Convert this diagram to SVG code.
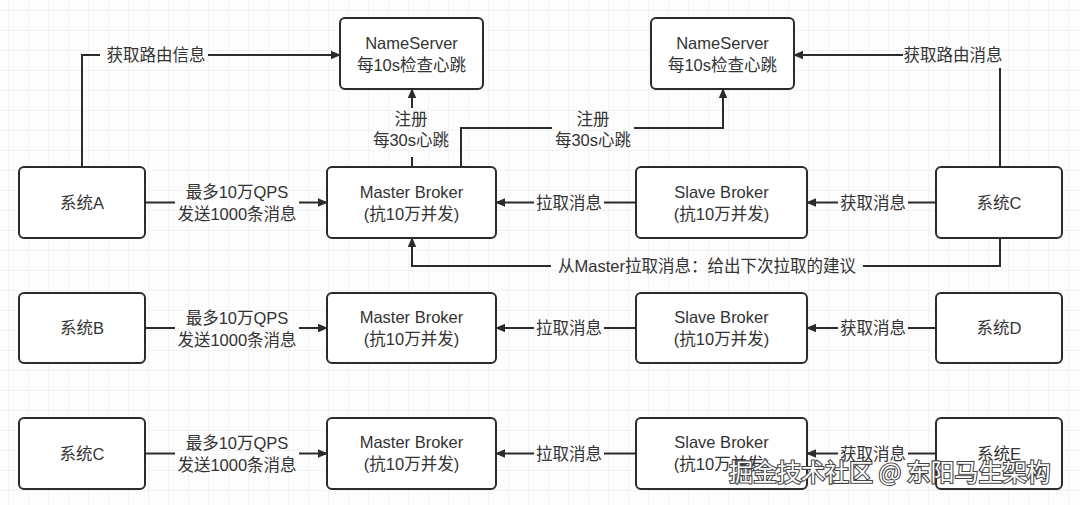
<svg xmlns="http://www.w3.org/2000/svg" width="1080" height="505" viewBox="0 0 1080 505">
<defs>
<pattern id="grid" x="8" y="10" width="20" height="20" patternUnits="userSpaceOnUse">
<path d="M20 0H0V20" fill="none" stroke="#e9e9e9" stroke-width="1"/>
</pattern>
<marker id="arr" viewBox="0 0 10 10" refX="9" refY="5" markerWidth="10" markerHeight="10" markerUnits="userSpaceOnUse" orient="auto">
<path d="M0 0.8L10 5L0 9.2Z" fill="#2b2b2b"/>
</marker>
<style>
.box{fill:#fff;stroke:#2b2b2b;stroke-width:2}
.t{font-family:"Liberation Sans","Noto Sans CJK SC",sans-serif;font-size:16.5px;fill:#333;text-anchor:middle;dominant-baseline:central}
.c{fill:none;stroke:#2b2b2b;stroke-width:2}
.a{marker-end:url(#arr)}
.wm{font-family:"Noto Sans CJK SC",sans-serif;font-size:24px;fill:#fff;stroke:#444;stroke-width:2.2;paint-order:stroke;text-anchor:start}
</style>
</defs>
<rect width="1080" height="505" fill="#fdfdfd"/>
<rect width="1080" height="505" fill="url(#grid)"/>

<g id="connectors">
<path class="c" d="M82 167V55H100"/>
<path class="c a" d="M208 55H340"/>
<text class="t" x="156" y="55">获取路由信息</text>
<path class="c" d="M1000 167V68"/>
<path class="c a" d="M903 55H794"/>
<text class="t" x="953" y="55">获取路由消息</text>
<path class="c" d="M412 167V157"/>
<path class="c a" d="M412 108V89"/>
<text class="t" x="411" y="119">注册</text>
<text class="t" x="411" y="140">每30s心跳</text>
<path class="c" d="M461 167V128H552"/>
<path class="c a" d="M634 128H723V89"/>
<text class="t" x="593" y="119">注册</text>
<text class="t" x="593" y="140">每30s心跳</text>
<path class="c" d="M1000 238V266H863"/>
<path class="c a" d="M551 266H412V238"/>
<text class="t" x="707" y="266">从Master拉取消息：给出下次拉取的建议</text>

<path class="c" d="M145 202.5H175"/>
<path class="c a" d="M299 202.5H327"/>
<text class="t" x="237" y="192">最多10万QPS</text>
<text class="t" x="237" y="214">发送1000条消息</text>
<path class="c" d="M636 202.5H604"/>
<path class="c a" d="M534 202.5H496"/>
<text class="t" x="569" y="202.5">拉取消息</text>
<path class="c" d="M936 202.5H908"/>
<path class="c a" d="M838 202.5H807"/>
<text class="t" x="873" y="202.5">获取消息</text>

<path class="c" d="M145 328H175"/>
<path class="c a" d="M299 328H327"/>
<text class="t" x="237" y="318">最多10万QPS</text>
<text class="t" x="237" y="340">发送1000条消息</text>
<path class="c" d="M636 328H604"/>
<path class="c a" d="M534 328H496"/>
<text class="t" x="569" y="328">拉取消息</text>
<path class="c" d="M936 328H908"/>
<path class="c a" d="M838 328H807"/>
<text class="t" x="873" y="328">获取消息</text>

<path class="c" d="M145 453.5H175"/>
<path class="c a" d="M299 453.5H327"/>
<text class="t" x="237" y="443">最多10万QPS</text>
<text class="t" x="237" y="465">发送1000条消息</text>
<path class="c" d="M636 453.5H604"/>
<path class="c a" d="M534 453.5H496"/>
<text class="t" x="569" y="453.5">拉取消息</text>
<path class="c" d="M936 453.5H908"/>
<path class="c a" d="M838 453.5H807"/>
<text class="t" x="873" y="453.5">获取消息</text>
</g>

<g id="ns1"><rect class="box" x="340" y="18" width="143" height="71" rx="5"/>
<text class="t" x="411.5" y="43">NameServer</text><text class="t" x="411.5" y="65">每10s检查心跳</text></g>
<g id="ns2"><rect class="box" x="651" y="18" width="143" height="71" rx="5"/>
<text class="t" x="722.5" y="43">NameServer</text><text class="t" x="722.5" y="65">每10s检查心跳</text></g>

<g id="sysA"><rect class="box" x="19" y="167" width="126" height="71" rx="5"/><text class="t" x="82" y="202.5">系统A</text></g>
<g id="master1"><rect class="box" x="327" y="167" width="169" height="71" rx="5"/>
<text class="t" x="411.5" y="192">Master Broker</text><text class="t" x="411.5" y="214">(抗10万并发)</text></g>
<g id="slave1"><rect class="box" x="636" y="167" width="171" height="71" rx="5"/>
<text class="t" x="721.5" y="192">Slave Broker</text><text class="t" x="721.5" y="214">(抗10万并发)</text></g>
<g id="sysC1"><rect class="box" x="936" y="167" width="126" height="71" rx="5"/><text class="t" x="999" y="202.5">系统C</text></g>

<g id="sysB"><rect class="box" x="19" y="293" width="126" height="70" rx="5"/><text class="t" x="82" y="328">系统B</text></g>
<g id="master2"><rect class="box" x="327" y="293" width="169" height="70" rx="5"/>
<text class="t" x="411.5" y="317">Master Broker</text><text class="t" x="411.5" y="339">(抗10万并发)</text></g>
<g id="slave2"><rect class="box" x="636" y="293" width="171" height="70" rx="5"/>
<text class="t" x="721.5" y="317">Slave Broker</text><text class="t" x="721.5" y="339">(抗10万并发)</text></g>
<g id="sysD"><rect class="box" x="936" y="293" width="126" height="70" rx="5"/><text class="t" x="999" y="328">系统D</text></g>

<g id="sysC2"><rect class="box" x="19" y="418" width="126" height="71" rx="5"/><text class="t" x="82" y="453.5">系统C</text></g>
<g id="master3"><rect class="box" x="327" y="418" width="169" height="71" rx="5"/>
<text class="t" x="411.5" y="442">Master Broker</text><text class="t" x="411.5" y="464">(抗10万并发)</text></g>
<g id="slave3"><rect class="box" x="636" y="418" width="171" height="71" rx="5"/>
<text class="t" x="721.5" y="442">Slave Broker</text><text class="t" x="721.5" y="464">(抗10万并发)</text></g>
<g id="sysE"><rect class="box" x="936" y="418" width="126" height="71" rx="5"/><text class="t" x="999" y="453.5">系统E</text></g>

<g id="watermark">
<text class="wm" x="729" y="481">掘金技术社区 @ 东阳马生架构</text>
</g>
</svg>
